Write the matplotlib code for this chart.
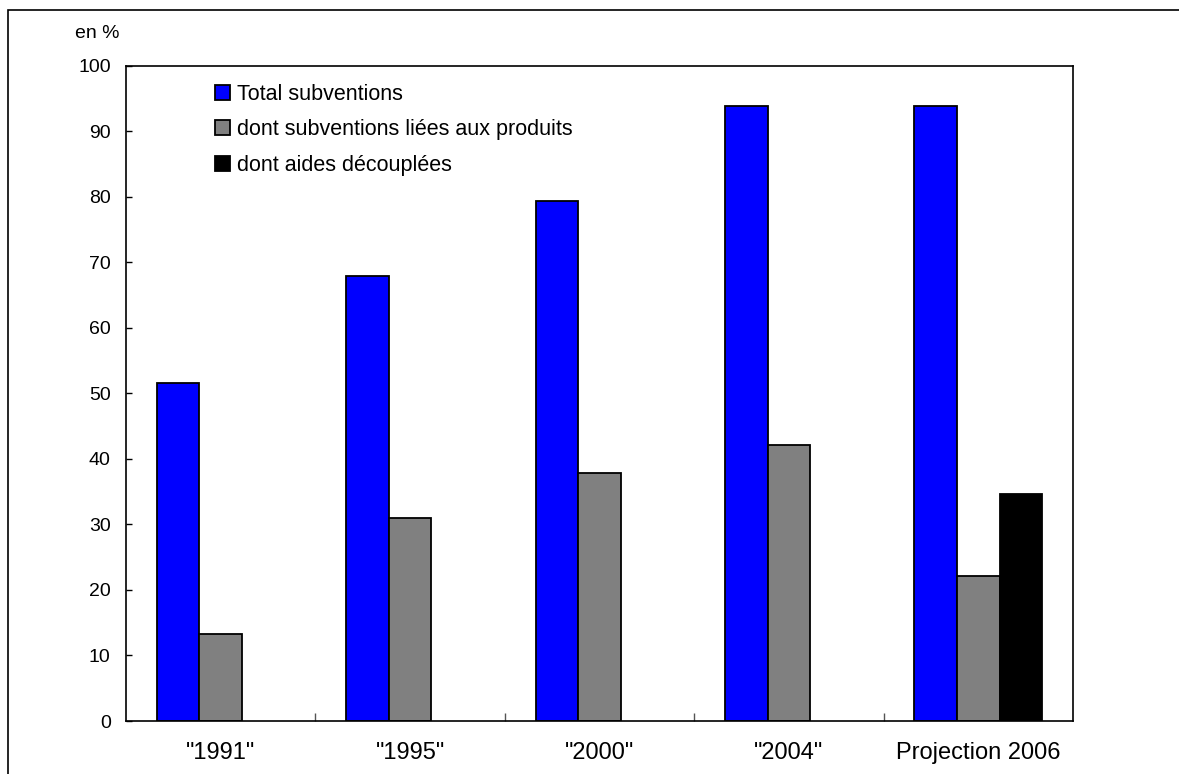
import matplotlib
matplotlib.use("Agg")
import matplotlib.pyplot as plt
import numpy as np
from matplotlib.patches import Rectangle

categories = ['"1991"', '"1995"', '"2000"', '"2004"', 'Projection 2006']
total = [51.6, 67.9, 79.4, 93.8, 93.8]
liees = [13.2, 30.9, 37.8, 42.1, 22.1]
decouplees = [0, 0, 0, 0, 34.7]
series_names = ["Total subventions", "dont subventions liées aux produits", "dont aides découplées"]
colors = ["#0000FF", "#808080", "#000000"]

plt.rcParams['font.family'] = ['Liberation Sans', 'DejaVu Sans']

W, H = 1179, 774
fig = plt.figure(figsize=(W / 100, H / 100), dpi=100)
ax = fig.add_axes([126 / W, 1 - 721 / H, (1073 - 126) / W, (721 - 65.5) / H])

# figure frame (extends past right/bottom edges)
fig.patches.append(Rectangle((8 / W, -0.1), 1.2, (1 - 10.5 / H) + 0.1, transform=fig.transFigure,
                             fill=False, edgecolor='black', linewidth=1.2))

x = np.arange(len(categories))
bw = 0.225
for i, (vals, name, c) in enumerate(zip([total, liees, decouplees], series_names, colors)):
    xs = [xi + (i - 1) * bw for xi, v in zip(x, vals) if v > 0]
    vs = [v for v in vals if v > 0]
    ax.bar(xs, vs, width=bw, color=c, edgecolor='black', linewidth=1.3, label=name)

ax.set_xlim(-0.5, len(categories) - 0.5)
ax.set_ylim(0, 100)
ax.set_yticks(np.arange(0, 101, 10))
ax.tick_params(axis='y', direction='in', length=4, width=1, pad=11, labelsize=14)
ax.set_xticks(x)
ax.set_xticklabels(categories, fontsize=17)
ax.tick_params(axis='x', which='major', length=0, pad=15)
ax.set_xticks(np.arange(0.5, len(categories) - 0.5, 1), minor=True)
ax.tick_params(axis='x', which='minor', direction='in', length=6, width=1, color='#555555')
for s in ax.spines.values():
    s.set_linewidth(1.2)

fig.text(75 / W, 1 - 33 / H, "en %", fontsize=14, va='center', ha='left')

leg = ax.legend(loc='upper left', bbox_to_anchor=(0.094, 0.972), frameon=False, fontsize=15.5,
                handlelength=0.7, handleheight=0.7, handletextpad=0.3, labelspacing=0.68,
                borderpad=0, borderaxespad=0)

fig.savefig("out.png", dpi=100)
